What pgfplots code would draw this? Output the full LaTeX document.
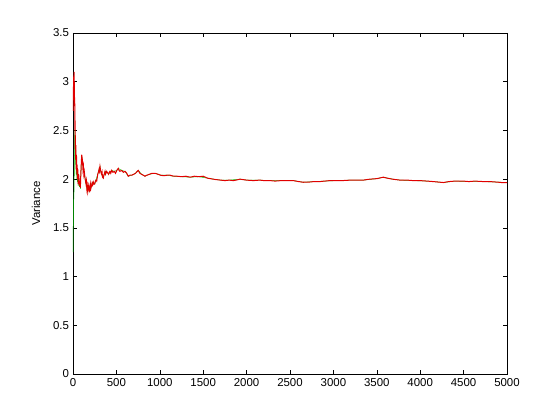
\documentclass[border=0pt]{standalone}
\usepackage{fontspec}
\setmainfont{Liberation Sans}
\usepackage{pgfplots}
\usepackage{pgfplotstable}
\pgfplotsset{compat=1.18}
\pgfplotstableread{
x y
0 2.80
2 2.70
4 2.95
6 2.85
8 3.05
10 2.95
12 3.10
14 2.90
16 3.00
18 2.75
20 2.80
22 2.50
24 2.60
26 2.30
28 2.45
30 2.20
33 2.35
36 2.10
40 2.25
44 2.05
48 2.15
52 2.00
56 2.10
60 1.95
65 2.05
70 2.00
75 1.93
80 1.98
85 1.91
90 2.05
95 2.15
100 2.25
105 2.22
110 2.18
115 2.10
120 2.13
125 2.05
130 2.08
140 2.00
150 1.95
155 1.98
160 1.90
165 1.93
170 1.87
175 1.90
180 1.93
185 1.89
190 1.88
195 1.92
200 1.95
205 1.90
210 1.92
220 1.96
227 1.94
234 1.97
242 1.95
250 1.95
258 1.98
265 1.99
273 1.98
280 2.02
285 2.05
292 2.07
300 2.10
305 2.08
311 2.13
320 2.08
325 2.06
330 2.05
335 2.07
340 2.02
349 2.01
355 2.04
360 2.05
369 2.08
375 2.05
380 2.06
388 2.08
395 2.07
403 2.06
410 2.05
418 2.07
425 2.08
435 2.06
446 2.09
460 2.07
475 2.08
490 2.06
505 2.09
522 2.11
530 2.09
540 2.08
560 2.09
580 2.07
599 2.08
620 2.06
637 2.03
655 2.04
676 2.04
700 2.05
720 2.06
740 2.08
753 2.09
770 2.06
790 2.05
810 2.04
829 2.03
850 2.04
880 2.05
910 2.06
945 2.06
980 2.05
1010 2.04
1050 2.035
1080 2.04
1120 2.04
1160 2.03
1200 2.03
1250 2.025
1300 2.03
1350 2.02
1400 2.03
1450 2.025
1500 2.03
1550 2.01
1616 2.00
1650 1.995
1700 1.99
1750 1.985
1800 1.99
1847 1.985
1880 1.99
1924 2.00
1960 1.995
2000 1.99
2077 1.985
2150 1.99
2200 1.985
2269 1.985
2330 1.98
2400 1.985
2470 1.985
2538 1.985
2600 1.975
2653 1.968
2720 1.97
2780 1.975
2845 1.975
2900 1.98
2960 1.985
3038 1.985
3100 1.985
3200 1.99
3280 1.99
3344 1.99
3420 2.00
3500 2.005
3575 2.02
3620 2.01
3680 2.00
3767 1.99
3850 1.99
3920 1.985
3997 1.985
4080 1.98
4150 1.975
4210 1.97
4266 1.965
4330 1.975
4400 1.98
4496 1.98
4560 1.975
4630 1.98
4727 1.975
4800 1.975
4880 1.97
4940 1.965
5000 1.965
}\redtab
\pgfplotstableread{
x y
0 1.25
2 1.45
4 1.60
6 1.70
8 1.78
10 1.82
12 1.88
14 2.00
16 2.15
18 2.30
20 2.45
22 2.50
24 2.40
26 2.25
28 2.30
30 2.15
33 2.30
36 2.05
40 2.20
44 2.00
48 2.10
52 1.97
56 2.06
60 1.93
65 2.02
70 1.98
75 1.92
80 1.96
85 1.90
90 2.04
95 2.14
100 2.24
110 2.17
120 2.12
130 2.07
140 2.00
150 1.95
160 1.90
170 1.87
180 1.93
190 1.88
200 1.95
210 1.92
220 1.96
234 1.97
250 1.95
265 1.99
285 2.05
300 2.10
311 2.13
320 2.08
330 2.05
349 2.01
369 2.08
395 2.07
410 2.05
446 2.09
475 2.08
505 2.09
522 2.11
560 2.09
599 2.08
637 2.03
676 2.04
720 2.06
753 2.09
790 2.05
829 2.03
880 2.05
945 2.06
1010 2.04
1080 2.04
1160 2.03
1250 2.025
1350 2.02
1450 2.025
1550 2.01
1616 2.00
1700 1.99
1800 1.99
1924 2.00
2000 1.99
2150 1.99
2269 1.985
2400 1.985
2538 1.985
2653 1.968
2780 1.975
2900 1.98
3038 1.985
3200 1.99
3344 1.99
3500 2.005
3575 2.02
3680 2.00
3767 1.99
3920 1.985
4080 1.98
4210 1.97
4266 1.965
4400 1.98
4560 1.975
4727 1.975
4880 1.97
5000 1.965
}\greentab
\definecolor{mred}{RGB}{225,0,0}
\definecolor{mgreen}{RGB}{0,200,0}
\begin{document}
\fontsize{11.5}{13}\selectfont
\begin{tikzpicture}
\begin{axis}[
  scale only axis,
  width=434bp, height=341bp,
  xmin=0, xmax=5000, ymin=0, ymax=3.5,
  xtick={0,500,...,5000},
  ytick={0,0.5,...,3.5},
  scaled x ticks=false,
  /pgf/number format/.cd, fixed, 1000 sep={}, assume math mode=true,
  /pgfplots/.cd,
  tick align=inside,
  tick pos=both,
  major tick length=4bp,
  axis line style={line width=0.5bp},
  tick style={line width=0.5bp, black},
  ticklabel style={font=\fontsize{11.5}{13}\selectfont},
  yticklabel style={/pgf/number format/.cd, fixed, precision=1},
  ylabel={Variance},
  ylabel style={font=\fontsize{11.5}{13}\selectfont, yshift=5bp},
  clip=true,
]
\addplot[mgreen, line width=0.5bp] table[x=x,y=y] {\greentab};
\addplot[mred, line width=1bp] table[x=x,y=y] {\redtab};
\end{axis}
\pgfresetboundingbox
\path (current axis.south west) ++(-73bp,-46bp) rectangle ++(560bp,420bp);
\end{tikzpicture}
\end{document}
